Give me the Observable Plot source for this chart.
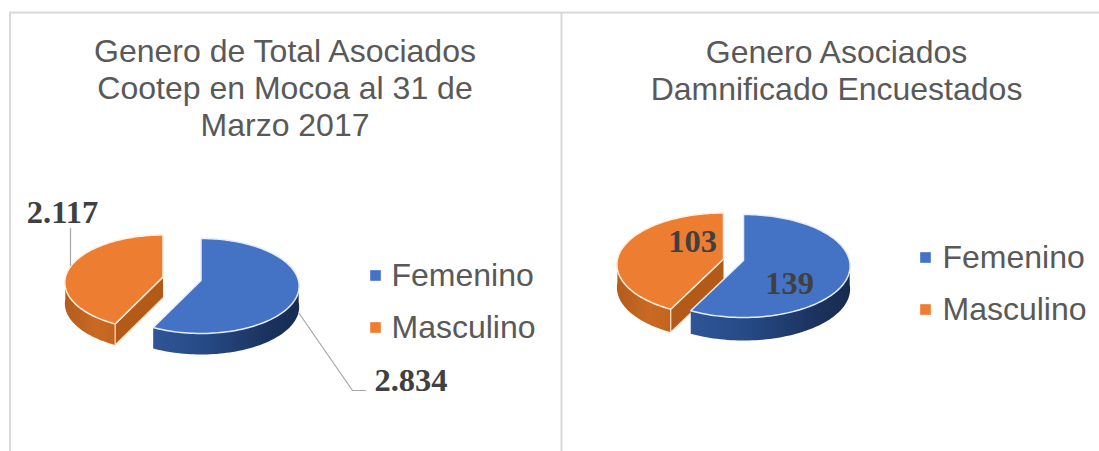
<!DOCTYPE html>
<html><head><meta charset="utf-8">
<style>html,body{margin:0;padding:0;background:#fff}svg{display:block}</style>
<script src="https://cdn.jsdelivr.net/npm/d3@7"></script>
<script src="https://cdn.jsdelivr.net/npm/@observablehq/plot@0.6"></script>
</head><body><div id="chart"></div>
<script>
const categories = ["Femenino", "Masculino"];
const totalAsociados = [2834, 2117];
const encuestados = [139, 103];
const titleLeft = "Genero de Total Asociados\nCootep en Mocoa al 31 de\nMarzo 2017";
const titleRight = "Genero Asociados\nDamnificado Encuestados";

const sans = "Liberation Sans, Arial, sans-serif";
const serif = "Liberation Serif, Times New Roman, serif";
const fmt = d3.formatLocale({decimal: ",", thousands: ".", grouping: [3], currency: ["", ""]}).format(",d");

// layout of the two exploded pies
const panels = [
  {values: totalAsociados, apex: [[200.5, 280], [162.5, 276.5]], rx: 97.5, back: 42, front: 53, depth: 21,
   legend: [375, 391, 275, 327], labels: [[410.5, 380], [62, 212]], title: titleLeft, tx: 284.5, ty: 87},
  {values: encuestados, apex: [[743, 260], [723, 258.5]], rx: 106, back: 46, front: 57, depth: 23,
   legend: [925, 942, 257, 309], labels: [[789, 283], [692, 241]], title: titleRight, tx: 836, ty: 69}
];

function project(p, cx, cy, theta) {
  const k = (p.front - p.back) / (p.front + p.back);
  const R = p.front * (1 - k);
  const u = Math.sin(theta), v = -Math.cos(theta), s = 1 / (1 - k * v);
  return {x: cx + p.rx * u * s, y: cy + R * v * s, v};
}

const tops = [], walls = [], cuts = [];
panels.forEach((p, pi) => {
  const total = d3.sum(p.values);
  let a0 = 0;
  p.values.forEach((val, i) => {
    const a1 = a0 + val / total * 2 * Math.PI;
    const [cx, cy] = p.apex[i];
    const arc = d3.range(0, 121).map(t => project(p, cx, cy, a0 + (a1 - a0) * t / 120));
    const id = `${pi}-${i}`;
    [{x: cx, y: cy}, ...arc, {x: cx, y: cy}].forEach(q => tops.push({id, cat: categories[i], x: q.x, y: q.y}));
    const front = arc.filter(q => q.v >= 0);
    [...front, ...front.slice().reverse().map(q => ({x: q.x, y: q.y + p.depth}))]
      .forEach(q => walls.push({id, cat: categories[i], x: q.x, y: q.y}));
    if (i === 1) {
      const tip = arc[0];
      [{x: cx, y: cy}, tip, {x: tip.x, y: tip.y + p.depth}, {x: cx, y: cy + p.depth}]
        .forEach(q => cuts.push({id, x: q.x, y: q.y}));
    }
    a0 = a1;
  });
});
const byCat = c => d => d.cat === c;

const defs = () => {
  const svg = d3.create("svg:defs");
  const grad = (id, stops) => {
    const g = svg.append("linearGradient").attr("id", id);
    stops.forEach(([o, c]) => g.append("stop").attr("offset", o).attr("stop-color", c));
  };
  grad("wallBlue", [[0, "#2f5597"], [0.35, "#264a85"], [0.75, "#1c3461"], [1, "#172b50"]]);
  grad("wallOrange", [[0, "#b25c1c"], [0.6, "#c96a24"], [1, "#c3631f"]]);
  return svg.node();
};

const marks = [
  defs,
  Plot.ruleY([12], {x1: 9, x2: 1099, stroke: "#d9d9d9", strokeWidth: 2}),
  Plot.ruleX([9.5, 561], {y1: 12, y2: 451, stroke: "#d9d9d9", strokeWidth: 2}),
  Plot.line(walls.filter(byCat("Masculino")), {x: "x", y: "y", z: "id", fill: "url(#wallOrange)", stroke: "none"}),
  Plot.line(cuts, {x: "x", y: "y", z: "id", fill: "#b45a19", stroke: "#fbe3cb", strokeWidth: 1.2}),
  Plot.line(walls.filter(byCat("Femenino")), {x: "x", y: "y", z: "id", fill: "url(#wallBlue)", stroke: "none"}),
  Plot.line(tops.filter(byCat("Masculino")), {x: "x", y: "y", z: "id", fill: "#ed7d31", stroke: "#fdeedd", strokeWidth: 1.5}),
  Plot.line(tops.filter(byCat("Femenino")), {x: "x", y: "y", z: "id", fill: "#4472c4", stroke: "#e6edf8", strokeWidth: 1.5})
];
marks.push(
  Plot.line([{x: 70, y: 228}, {x: 70, y: 265}], {x: "x", y: "y", stroke: "#a6a6a6", strokeWidth: 1.2}),
  Plot.line([{x: 298, y: 312}, {x: 352, y: 390}, {x: 365, y: 390}], {x: "x", y: "y", stroke: "#a6a6a6", strokeWidth: 1.2})
);
panels.forEach(p => {
  marks.push(
    Plot.text([p.title], {x: () => p.tx, y: () => p.ty, text: d => d, fontFamily: sans, fontSize: 32, lineHeight: 1.16,
      fill: "#595959", textAnchor: "middle", lineAnchor: "middle"}),
    Plot.dot(categories, {x: () => p.legend[0], y: (d, i) => p.legend[2 + i], symbol: "square", r: 6,
      fill: d => d === "Femenino" ? "#4472c4" : "#ed7d31"}),
    Plot.text(categories, {x: () => p.legend[1], y: (d, i) => p.legend[2 + i], text: d => d, fontFamily: sans, fontSize: 32,
      fill: "#595959", textAnchor: "start", lineAnchor: "middle"}),
    Plot.text(p.values, {x: (d, i) => p.labels[i][0], y: (d, i) => p.labels[i][1], text: d => fmt(d), fontFamily: serif,
      fontSize: 32.5, fontWeight: "bold", fill: "#404040", textAnchor: "middle", lineAnchor: "middle"})
  );
});

document.getElementById("chart").append(Plot.plot({
  width: 1099, height: 451, margin: 0,
  x: {domain: [0, 1099], range: [0, 1099], axis: null},
  y: {domain: [0, 451], range: [0, 451], axis: null},
  style: {background: "#fff"},
  marks
}));
</script></body></html>
